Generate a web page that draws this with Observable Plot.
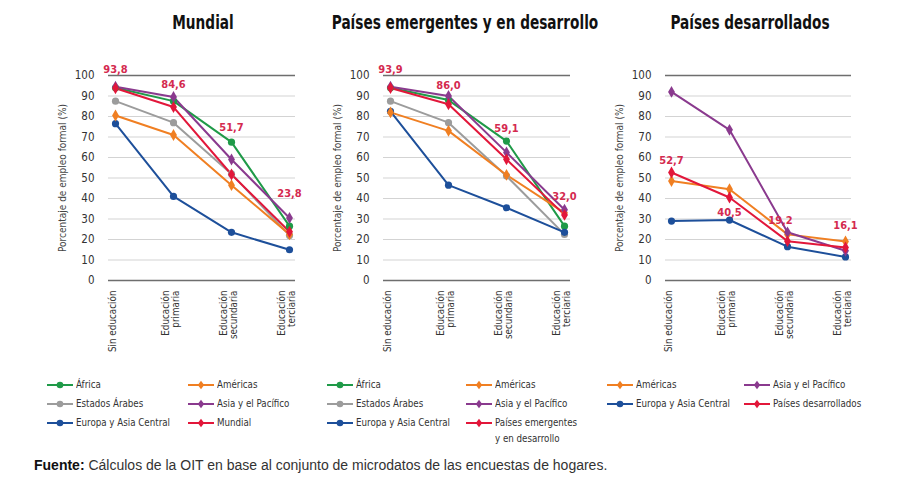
<!DOCTYPE html>
<html>
<head>
<meta charset="utf-8">
<script src="https://cdn.jsdelivr.net/npm/d3@7"></script>
<script src="https://cdn.jsdelivr.net/npm/@observablehq/plot@0.6"></script>
<style>
  html, body { margin: 0; padding: 0; background: #fff; }
  #root { position: relative; width: 912px; height: 502px; overflow: hidden; font-family: "DejaVu Sans Condensed", "Liberation Sans Narrow", sans-serif; }
  .title { position: absolute; top: 11px; font-weight: bold; font-size: 19px; color: #111; transform: translateX(-50%) scaleX(0.8); white-space: nowrap; }
  .panel { position: absolute; top: 40px; }
  .panel svg { overflow: visible; }
  .leg { position: absolute; display: flex; align-items: flex-start; font-size: 11px; color: #333; line-height: 16px; white-space: nowrap; }
  .leg svg { flex: none; margin-right: 3px; }
  .leg span { display: inline-block; transform: scaleX(0.88); transform-origin: left center; }
  .foot { position: absolute; left: 34px; top: 457px; font-family: "Liberation Sans", Arial, sans-serif; font-size: 14px; color: #333; }
  .foot b { color: #111; }
</style>
</head>
<body>
<div id="root"></div>
<script>
// ---------- data ----------
const niveles = ["Sin educación", "Educación primaria", "Educación secundaria", "Educación terciaria"];
const nivelLabels = ["Sin educación", "Educación\nprimaria", "Educación\nsecundaria", "Educación\nterciaria"];
const yTicks = [0, 10, 20, 30, 40, 50, 60, 70, 80, 90, 100];
const panelTitles = ["Mundial", "Países emergentes y en desarrollo", "Países desarrollados"];

// Mundial
const mundial_africa   = [94.0, 87.5, 67.5, 26.5];
const mundial_americas = [80.5, 71.0, 46.5, 22.5];
const mundial_arabes   = [87.5, 77.0, 52.0, 22.0];
const mundial_asia     = [94.5, 89.5, 59.0, 30.5];
const mundial_europa   = [76.5, 41.0, 23.5, 15.0];
const mundial_total    = [93.8, 84.6, 51.7, 23.8];

// Países emergentes y en desarrollo
const emerg_africa     = [94.0, 88.0, 68.0, 26.5];
const emerg_americas   = [82.0, 73.0, 51.5, 33.0];
const emerg_arabes     = [87.5, 77.0, 51.0, 22.5];
const emerg_asia       = [94.5, 90.0, 62.5, 34.5];
const emerg_europa     = [82.5, 46.5, 35.5, 23.5];
const emerg_total      = [93.9, 86.0, 59.1, 32.0];

// Países desarrollados
const desa_americas    = [48.5, 44.5, 22.5, 19.0];
const desa_asia        = [92.0, 73.5, 23.5, 14.5];
const desa_europa      = [29.0, 29.5, 16.5, 11.5];
const desa_total       = [52.7, 40.5, 19.2, 16.1];

// series names (legend text)
const S_AF = "África", S_AM = "Américas", S_AR = "Estados Árabes", S_AS = "Asia y el Pacífico",
      S_EU = "Europa y Asia Central", S_MU = "Mundial", S_EM = "Países emergentes\ny en desarrollo",
      S_DE = "Países desarrollados";

// ---------- styles ----------
const styleOf = {
  [S_AF]: {color: "#1f9a48", symbol: "circle"},
  [S_AM]: {color: "#f07f22", symbol: "diamond"},
  [S_AR]: {color: "#9c9c9c", symbol: "circle"},
  [S_AS]: {color: "#8a3a8e", symbol: "diamond"},
  [S_EU]: {color: "#1d4f9a", symbol: "circle"},
  [S_MU]: {color: "#e2173a", symbol: "diamond"},
  [S_EM]: {color: "#e2173a", symbol: "diamond"},
  [S_DE]: {color: "#e2173a", symbol: "diamond"}
};

const panels = [
  {
    title: panelTitles[0], left: 0, width: 300, marginLeft: 108, titleX: 203,
    series: [[S_AF, mundial_africa], [S_AR, mundial_arabes], [S_EU, mundial_europa],
             [S_AM, mundial_americas], [S_AS, mundial_asia], [S_MU, mundial_total]],
    total: mundial_total,
    labelOffsets: [[0, -19], [0, -23], [0, -47], [0, -38]],
    legendCols: [[47, [S_AF, S_AR, S_EU]], [188, [S_AM, S_AS, S_MU]]]
  },
  {
    title: panelTitles[1], left: 280, width: 295, marginLeft: 103, titleX: 465,
    series: [[S_AF, emerg_africa], [S_AR, emerg_arabes], [S_EU, emerg_europa],
             [S_AM, emerg_americas], [S_AS, emerg_asia], [S_EM, emerg_total]],
    total: emerg_total,
    labelOffsets: [[0, -19], [0, -19], [0, -31], [0, -18]],
    legendCols: [[327, [S_AF, S_AR, S_EU]], [466, [S_AM, S_AS, S_EM]]]
  },
  {
    title: panelTitles[2], left: 560, width: 296, marginLeft: 105, titleX: 750,
    series: [[S_AM, desa_americas], [S_EU, desa_europa], [S_AS, desa_asia], [S_DE, desa_total]],
    total: desa_total,
    labelOffsets: [[0, -12], [0, 15], [-7, -21], [0, -22]],
    legendCols: [[607, [S_AM, S_EU]], [744, [S_AS, S_DE]]]
  }
];

const root = document.getElementById("root");
const fmt = v => v.toFixed(1).replace(".", ",");
const FONT = '"DejaVu Sans Condensed", "Liberation Sans Narrow", sans-serif';

for (const p of panels) {
  const t = document.createElement("div");
  t.className = "title";
  t.style.left = p.titleX + "px";
  t.textContent = p.title;
  root.appendChild(t);

  const rows = [];
  for (const [name, vals] of p.series) vals.forEach((v, i) => rows.push({serie: name, nivel: niveles[i], valor: v}));
  const names = p.series.map(d => d[0]);

  const labelMarks = p.total.map((v, i) => Plot.text([{nivel: niveles[i], valor: v}], {
    x: "nivel", y: "valor", text: d => fmt(d.valor),
    dx: p.labelOffsets[i][0], dy: p.labelOffsets[i][1],
    fill: "#d42a4f", fontWeight: "bold", fontSize: 11
  }));

  const chart = Plot.plot({
    width: p.width, height: 320,
    marginLeft: p.marginLeft, marginRight: 5, marginTop: 35, marginBottom: 80,
    style: {fontFamily: FONT, background: "transparent", overflow: "visible"},
    x: {type: "point", domain: niveles, padding: 0.085, axis: null},
    y: {domain: [0, 100], axis: null},
    color: {domain: names, range: names.map(n => styleOf[n].color)},
    symbol: {domain: names, range: names.map(n => styleOf[n].symbol)},
    marks: [
      Plot.ruleY(yTicks.filter(d => d !== 0 && d !== 100), {stroke: "#d3d3d3", strokeWidth: 1.2}),
      Plot.ruleY([0, 100], {stroke: "#6e6e6e", strokeWidth: 1.6}),
      Plot.text(yTicks, {y: d => d, frameAnchor: "left", dx: -14, textAnchor: "end", text: d => String(d), fontSize: 11.5, fill: "#333"}),
      Plot.text(["Porcentaje de empleo formal (%)"], {frameAnchor: "left", dx: -46, rotate: -90, textAnchor: "middle", fontSize: 10, fill: "#444", text: d => d}),
      Plot.text(niveles, {x: d => d, frameAnchor: "bottom", dy: 10, dx: -3, rotate: -90, textAnchor: "end", lineAnchor: "middle",
        text: (d, i) => nivelLabels[i], fontSize: 9.8, fill: "#333", lineHeight: 1.1}),
      Plot.line(rows, {x: "nivel", y: "valor", z: "serie", stroke: "serie", strokeWidth: 2}),
      Plot.dot(rows, {x: "nivel", y: "valor", fill: "serie", symbol: "serie", r: 3.6, stroke: "none"}),
      ...labelMarks
    ]
  });
  const wrap = document.createElement("div");
  wrap.className = "panel";
  wrap.style.left = p.left + "px";
  wrap.appendChild(chart);
  root.appendChild(wrap);

  // legend
  const rowY = [377, 396, 415];
  for (const [x, items] of p.legendCols) {
    items.forEach((name, r) => {
      const st = styleOf[name];
      const item = document.createElement("div");
      item.className = "leg";
      item.style.left = x + "px";
      item.style.top = rowY[r] + "px";
      const sym = st.symbol === "circle"
        ? `<circle cx="13" cy="8" r="3.3" fill="${st.color}"/>`
        : `<path d="M13,3.8 L16.2,8 L13,12.2 L9.8,8 Z" fill="${st.color}"/>`;
      item.innerHTML = `<svg width="26" height="16"><line x1="0" x2="26" y1="8" y2="8" stroke="${st.color}" stroke-width="2"/>${sym}</svg><span>${name.replace("\n", "<br>")}</span>`;
      root.appendChild(item);
    });
  }
}

const foot = document.createElement("div");
foot.className = "foot";
foot.innerHTML = "<b>Fuente:</b> Cálculos de la OIT en base al conjunto de microdatos de las encuestas de hogares.";
root.appendChild(foot);
</script>
</body>
</html>
